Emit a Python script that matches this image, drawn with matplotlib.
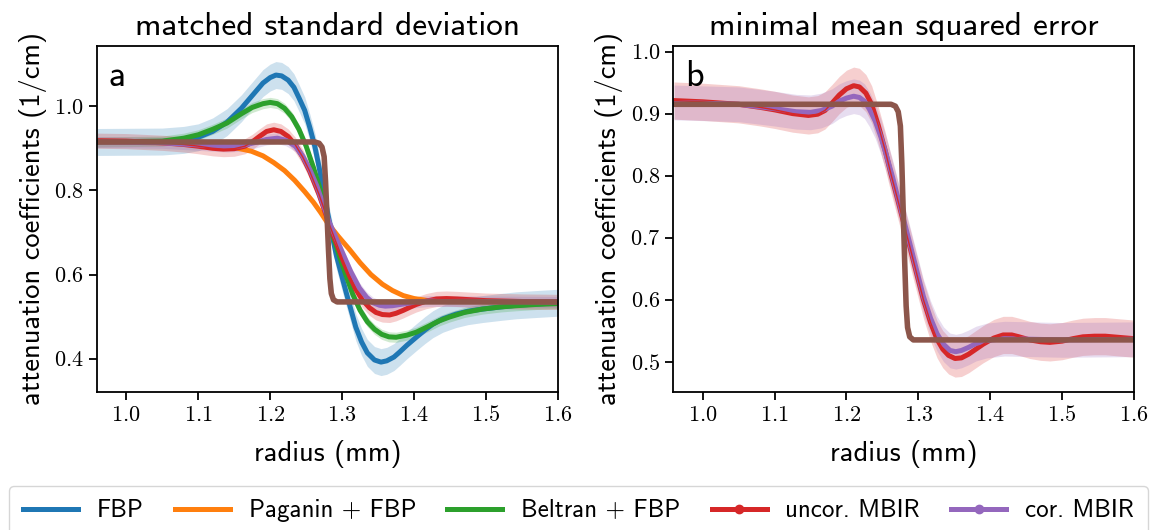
import matplotlib
matplotlib.use("Agg")
import matplotlib.pyplot as plt
from matplotlib.lines import Line2D
import numpy as np

plt.rcParams['axes.formatter.use_mathtext'] = True

SANS = ['cmss10', 'DejaVu Sans']
SERIF = ['cmr10', 'DejaVu Serif']

# ---- values (radius in mm, attenuation in 1/cm) ----
truth_r = [0.96, 1.262, 1.268, 1.272, 1.275, 1.277, 1.279, 1.281, 1.283, 1.285,
           1.288, 1.293, 1.6]
truth_v = [0.915, 0.915, 0.912, 0.903, 0.88, 0.82, 0.74, 0.66, 0.59, 0.555,
           0.54, 0.535, 0.535]

fbp_r = [0.96, 1.05, 1.08, 1.10, 1.12, 1.14, 1.16, 1.17, 1.18, 1.19, 1.20, 1.208,
         1.216, 1.225, 1.233, 1.24, 1.248, 1.255, 1.262, 1.268, 1.28, 1.292,
         1.306, 1.319, 1.327, 1.335, 1.345, 1.354, 1.362, 1.372, 1.38, 1.39,
         1.403, 1.415, 1.426, 1.44, 1.458, 1.475, 1.495, 1.52, 1.542, 1.57, 1.6]
fbp_v = [0.915, 0.916, 0.92, 0.926, 0.94, 0.962, 0.995, 1.015, 1.035, 1.055, 1.068,
         1.074, 1.072, 1.062, 1.045, 1.02, 0.99, 0.95, 0.905, 0.855, 0.745, 0.645,
         0.555, 0.475, 0.44, 0.414, 0.397, 0.392, 0.395, 0.404, 0.416, 0.432,
         0.451, 0.468, 0.482, 0.495, 0.506, 0.513, 0.518, 0.523, 0.527, 0.53, 0.533]

pag_r = [0.96, 1.10, 1.13, 1.15, 1.174, 1.19, 1.205, 1.22, 1.234, 1.248, 1.26,
         1.27, 1.28, 1.295, 1.31, 1.325, 1.34, 1.356, 1.37, 1.385, 1.40, 1.42,
         1.44, 1.6]
pag_v = [0.915, 0.912, 0.907, 0.902, 0.893, 0.882, 0.866, 0.847, 0.824, 0.797,
         0.772, 0.748, 0.722, 0.69, 0.66, 0.628, 0.6, 0.577, 0.562, 0.55, 0.543,
         0.538, 0.536, 0.535]

bel_r = [0.96, 1.05, 1.08, 1.10, 1.12, 1.14, 1.16, 1.175, 1.19, 1.20, 1.21, 1.22,
         1.23, 1.24, 1.25, 1.26, 1.27, 1.282, 1.296, 1.305, 1.315, 1.325, 1.335,
         1.345, 1.355, 1.365, 1.375, 1.39, 1.403, 1.42, 1.435, 1.449, 1.47,
         1.495, 1.52, 1.542, 1.57, 1.6]
bel_v = [0.915, 0.917, 0.924, 0.932, 0.945, 0.96, 0.982, 0.997, 1.006, 1.009,
         1.006, 0.995, 0.975, 0.945, 0.905, 0.855, 0.80, 0.72, 0.645, 0.60,
         0.552, 0.515, 0.488, 0.47, 0.458, 0.452, 0.451, 0.456, 0.463, 0.477,
         0.49, 0.499, 0.51, 0.518, 0.523, 0.526, 0.529, 0.531]

unc_a_r = [0.96, 1.0, 1.05, 1.08, 1.10, 1.12, 1.135, 1.15, 1.165, 1.175, 1.185,
           1.195, 1.205, 1.215, 1.225, 1.235, 1.245, 1.255, 1.268, 1.282, 1.292,
           1.301, 1.31, 1.319, 1.328, 1.338, 1.347, 1.356, 1.366, 1.375, 1.385,
           1.395, 1.403, 1.417, 1.431, 1.445, 1.46, 1.48, 1.5, 1.55, 1.6]
unc_a_v = [0.918, 0.917, 0.913, 0.909, 0.905, 0.90, 0.898, 0.899, 0.905, 0.915,
           0.928, 0.94, 0.944, 0.94, 0.928, 0.908, 0.88, 0.845, 0.79, 0.72, 0.675,
           0.635, 0.598, 0.565, 0.54, 0.521, 0.51, 0.505, 0.504, 0.508, 0.515,
           0.523, 0.529, 0.537, 0.542, 0.543, 0.542, 0.54, 0.538, 0.536, 0.535]

cor_a_r = [0.96, 1.05, 1.10, 1.14, 1.16, 1.18, 1.195, 1.21, 1.222, 1.235, 1.245,
           1.255, 1.265, 1.282, 1.292, 1.301, 1.312, 1.324, 1.334, 1.343, 1.352,
           1.36, 1.37, 1.385, 1.40, 1.42, 1.45, 1.5, 1.6]
cor_a_v = [0.915, 0.913, 0.908, 0.904, 0.906, 0.914, 0.921, 0.924, 0.919, 0.905,
           0.882, 0.85, 0.81, 0.725, 0.685, 0.65, 0.607, 0.568, 0.546, 0.533,
           0.527, 0.525, 0.526, 0.53, 0.534, 0.537, 0.537, 0.536, 0.535]

unc_b_r = [0.96, 1.0, 1.05, 1.08, 1.10, 1.125, 1.147, 1.16, 1.17, 1.18, 1.19, 1.20,
           1.21, 1.218, 1.227, 1.235, 1.244, 1.2535, 1.262, 1.272, 1.286, 1.297,
           1.307, 1.317, 1.326, 1.334, 1.342, 1.351, 1.36, 1.37, 1.38, 1.39,
           1.405, 1.418, 1.43, 1.44, 1.455, 1.47, 1.483, 1.50, 1.515, 1.529,
           1.545, 1.56, 1.58, 1.6]
unc_b_v = [0.921, 0.919, 0.915, 0.91, 0.906, 0.90, 0.897, 0.899, 0.905, 0.917,
           0.93, 0.94, 0.945, 0.943, 0.933, 0.915, 0.882, 0.842, 0.802, 0.758,
           0.695, 0.645, 0.60, 0.563, 0.536, 0.52, 0.51, 0.505, 0.506, 0.512,
           0.52, 0.528, 0.538, 0.543, 0.543, 0.54, 0.535, 0.532, 0.531, 0.533,
           0.537, 0.54, 0.541, 0.541, 0.539, 0.537]

cor_b_r = [0.96, 1.05, 1.10, 1.13, 1.15, 1.165, 1.18, 1.19, 1.20, 1.21, 1.218,
           1.225, 1.232, 1.24, 1.248, 1.255, 1.264, 1.272, 1.286, 1.297, 1.307,
           1.317, 1.326, 1.335, 1.344, 1.352, 1.36, 1.37, 1.38, 1.395, 1.42,
           1.46, 1.5, 1.6]
cor_b_v = [0.918, 0.915, 0.908, 0.903, 0.902, 0.905, 0.912, 0.92, 0.925, 0.928,
           0.926, 0.92, 0.907, 0.888, 0.862, 0.835, 0.798, 0.762, 0.70, 0.65,
           0.605, 0.57, 0.545, 0.528, 0.518, 0.516, 0.518, 0.523, 0.529, 0.534,
           0.537, 0.536, 0.535, 0.536]

# half width of the light noise band around each mean profile
err_a = {'FBP': 0.032, 'Beltran': 0.012, 'uncor': 0.018, 'cor': 0.013}
err_b = {'uncor': 0.03, 'cor': 0.028}

names = ['FBP', 'Paganin + FBP', 'Beltran + FBP', 'uncor. MBIR', 'cor. MBIR']
colors = {'FBP': '#1f77b4', 'Paganin': '#ff7f0e', 'Beltran': '#2ca02c',
          'uncor': '#d62728', 'cor': '#9467bd', 'truth': '#8c564b'}

LW = 3.6


def band(ax, r, v, e, c):
    r = np.asarray(r)
    v = np.asarray(v)
    ax.fill_between(r, v - e, v + e, color=c, alpha=0.22, lw=0)


def line(ax, r, v, c, lw=LW):
    ax.plot(r, v, color=c, lw=lw, solid_joinstyle='round', solid_capstyle='round')


fig = plt.figure(figsize=(11.57, 5.30), dpi=100)
ax_a = fig.add_axes([0.0836, 0.2604, 0.3987, 0.6528])
ax_b = fig.add_axes([0.5819, 0.2604, 0.3982, 0.6528])

# panel a
band(ax_a, fbp_r, fbp_v, err_a['FBP'], colors['FBP'])
line(ax_a, fbp_r, fbp_v, colors['FBP'])
line(ax_a, pag_r, pag_v, colors['Paganin'])
band(ax_a, bel_r, bel_v, err_a['Beltran'], colors['Beltran'])
line(ax_a, bel_r, bel_v, colors['Beltran'])
band(ax_a, unc_a_r, unc_a_v, err_a['uncor'], colors['uncor'])
line(ax_a, unc_a_r, unc_a_v, colors['uncor'])
band(ax_a, cor_a_r, cor_a_v, err_a['cor'], colors['cor'])
line(ax_a, cor_a_r, cor_a_v, colors['cor'])
line(ax_a, unc_a_r, unc_a_v, colors['uncor'], lw=1.0)
line(ax_a, truth_r, truth_v, colors['truth'], lw=LW + 0.4)
ax_a.set_ylim(0.321, 1.143)
ax_a.set_yticks([0.4, 0.6, 0.8, 1.0])
ax_a.set_title('matched standard deviation', family=SANS, fontsize=24, pad=8)
ax_a.text(0.025, 0.96, 'a', transform=ax_a.transAxes, family=SANS,
          fontsize=26, va='top', ha='left')

# panel b
band(ax_b, unc_b_r, unc_b_v, err_b['uncor'], colors['uncor'])
line(ax_b, unc_b_r, unc_b_v, colors['uncor'])
band(ax_b, cor_b_r, cor_b_v, err_b['cor'], colors['cor'])
line(ax_b, cor_b_r, cor_b_v, colors['cor'])
line(ax_b, unc_b_r, unc_b_v, colors['uncor'], lw=1.0)
line(ax_b, truth_r, truth_v, colors['truth'], lw=LW + 0.4)
ax_b.set_ylim(0.451, 1.009)
ax_b.set_yticks([0.5, 0.6, 0.7, 0.8, 0.9, 1.0])
ax_b.set_title('minimal mean squared error', family=SANS, fontsize=24, pad=8)
ax_b.text(0.025, 0.96, 'b', transform=ax_b.transAxes, family=SANS,
          fontsize=26, va='top', ha='left')

for ax in (ax_a, ax_b):
    ax.set_xlim(0.959, 1.6)
    ax.set_xticks([1.0, 1.1, 1.2, 1.3, 1.4, 1.5, 1.6])
    ax.set_xlabel('radius (mm)', family=SANS, fontsize=20.5, labelpad=11)
    ax.set_ylabel('attenuation coefficients (1/cm)', family=SANS, fontsize=20.5,
                  labelpad=5)
    ax.tick_params(labelsize=16, width=1.3, length=6)
    for lab in ax.get_xticklabels() + ax.get_yticklabels():
        lab.set_family(SERIF)
    for s in ax.spines.values():
        s.set_linewidth(1.3)

handles = [
    Line2D([], [], color=colors['FBP'], lw=LW),
    Line2D([], [], color=colors['Paganin'], lw=LW),
    Line2D([], [], color=colors['Beltran'], lw=LW),
    Line2D([], [], color=colors['uncor'], lw=LW, marker='o', markersize=6),
    Line2D([], [], color=colors['cor'], lw=LW, marker='o', markersize=6),
]
leg = fig.legend(handles, names, loc='lower center', bbox_to_anchor=(0.5, -0.035),
                 ncol=5, frameon=True, handlelength=2.2, handletextpad=0.75,
                 columnspacing=1.25, prop={'family': SANS, 'size': 18},
                 borderpad=0.55)
leg.get_frame().set_edgecolor('#cccccc')

fig.savefig('out.png', dpi=100)
